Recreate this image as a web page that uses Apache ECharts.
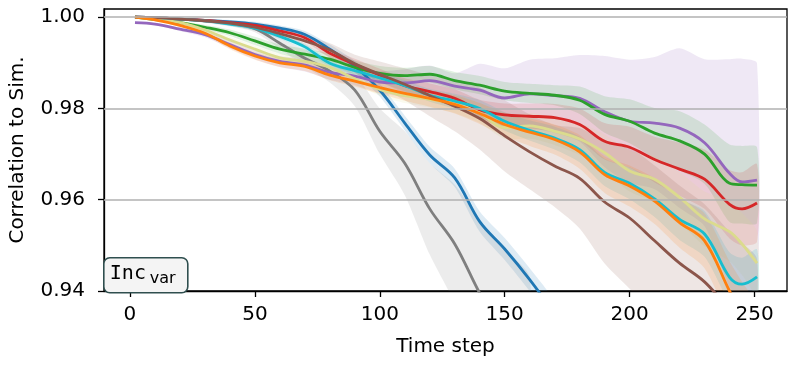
<!DOCTYPE html>
<html><head><meta charset="utf-8">
<script src="https://cdn.jsdelivr.net/npm/echarts@6/dist/echarts.min.js"></script>
<style>html,body{margin:0;padding:0;background:#fff}#c{width:797px;height:367px}</style>
</head><body><div id="c"></div>
<script>
// ---- data ----
const steps = [2,10,20,30,40,50,60,70,80,90,100,110,120,130,140,150,160,170,180,190,200,210,220,230,240,245,251];
const xTicks = [0,50,100,150,200,250];
const yTicks = [0.94,0.96,0.98,1.00];

const blueMean   = [1.0000,0.9999,0.9996,0.9993,0.9990,0.9985,0.9976,0.9962,0.9930,0.9892,0.9840,0.9768,0.9698,0.9648,0.9552,0.9492,0.9425,0.9350,null,null,null,null,null,null,null,null,null];
const blueSpread = [0,0.0001,0.0002,0.0003,0.0004,0.0005,0.0006,0.0008,0.0010,0.0012,0.0014,0.0016,0.0018,0.0020,0.0022,0.0024,0.0025,0.0025,null,null,null,null,null,null,null,null,null];

const grayMean   = [1.0000,0.9999,0.9996,0.9992,0.9986,0.9975,0.9943,0.9910,0.9882,0.9840,0.9750,0.9680,0.9580,0.9503,0.9395,0.9300,0.9210,null,null,null,null,null,null,null,null,null,null];
const graySpread = [0,0.0001,0.0002,0.0004,0.0006,0.0008,0.0012,0.0018,0.0025,0.0035,0.0050,0.0070,0.0100,0.0130,0.0160,0.0190,0.0220,null,null,null,null,null,null,null,null,null,null];

const purpleMean   = [0.9988,0.9985,0.9974,0.9962,0.9940,0.9918,0.9903,0.9895,0.9879,0.9871,0.9858,0.9856,0.9861,0.9849,0.9840,0.9823,0.9832,0.9828,0.9822,0.9793,0.9772,0.9768,0.9757,0.9725,0.9658,0.9639,0.9643];
const purpleSpread = [0,0.0002,0.0004,0.0006,0.0008,0.0010,0.0012,0.0014,0.0016,0.0020,0.0024,0.0030,0.0033,0.0028,0.0058,0.0065,0.0075,0.0082,0.0095,0.0122,0.0135,0.0145,0.0175,0.0183,0.0250,0.0270,0.0256];

const greenMean   = [1.0000,0.9995,0.9988,0.9978,0.9966,0.9948,0.9930,0.9919,0.9908,0.9890,0.9877,0.9872,0.9875,0.9861,0.9851,0.9838,0.9833,0.9829,0.9818,0.9787,0.9772,0.9746,0.9729,0.9700,0.9636,0.9633,0.9632];
const greenSpread = [0,0.0001,0.0003,0.0005,0.0007,0.0009,0.0010,0.0012,0.0013,0.0015,0.0016,0.0017,0.0018,0.0019,0.0020,0.0020,0.0021,0.0022,0.0030,0.0040,0.0048,0.0055,0.0065,0.0065,0.0085,0.0085,0.0083];

const redMean   = [1.0000,0.9999,0.9996,0.9993,0.9988,0.9982,0.9970,0.9955,0.9921,0.9897,0.9873,0.9850,0.9837,0.9822,0.9797,0.9786,0.9783,0.9780,0.9765,0.9728,0.9715,0.9688,0.9667,0.9645,0.9590,0.9580,0.9593];
const redSpread = [0,0.0001,0.0002,0.0003,0.0004,0.0005,0.0006,0.0008,0.0010,0.0012,0.0014,0.0016,0.0018,0.0020,0.0022,0.0025,0.0028,0.0030,0.0035,0.0040,0.0045,0.0050,0.0058,0.0065,0.0075,0.0080,0.0085];

const oliveMean   = [1.0000,0.9996,0.9988,0.9972,0.9950,0.9930,0.9911,0.9903,0.9890,0.9865,0.9842,0.9828,0.9820,0.9810,0.9790,0.9758,0.9762,0.9750,0.9733,0.9703,0.9663,0.9645,0.9605,0.9558,0.9530,0.9503,0.9461];
const oliveSpread = [0,0.0001,0.0003,0.0005,0.0007,0.0008,0.0009,0.0010,0.0011,0.0012,0.0014,0.0016,0.0018,0.0020,0.0022,0.0025,0.0028,0.0030,0.0035,0.0040,0.0045,0.0050,0.0055,0.0060,0.0065,0.0068,0.0070];

const cyanMean   = [1.0000,0.9999,0.9996,0.9992,0.9985,0.9976,0.9958,0.9935,0.9899,0.9883,0.9867,0.9850,0.9829,0.9816,0.9800,0.9772,0.9752,0.9735,0.9710,0.9660,0.9636,0.9602,0.9557,0.9525,0.9430,0.9415,0.9431];
const cyanSpread = [0,0.0001,0.0002,0.0003,0.0004,0.0005,0.0006,0.0007,0.0008,0.0009,0.0010,0.0012,0.0014,0.0016,0.0018,0.0020,0.0022,0.0025,0.0028,0.0030,0.0035,0.0040,0.0045,0.0050,0.0055,0.0058,0.0060];

const brownMean   = [1.0000,0.9999,0.9996,0.9992,0.9987,0.9978,0.9964,0.9948,0.9928,0.9898,0.9875,0.9853,0.9828,0.9805,0.9778,0.9740,0.9705,0.9674,0.9647,0.9595,0.9560,0.9510,0.9461,0.9420,0.9360,0.9335,0.9300];
const brownSpread = [0,0.0001,0.0002,0.0003,0.0005,0.0007,0.0009,0.0012,0.0015,0.0020,0.0028,0.0035,0.0045,0.0055,0.0068,0.0078,0.0082,0.0090,0.0110,0.0135,0.0155,0.0165,0.0170,0.0170,0.0170,0.0170,0.0170];

const orangeMean   = [1.0000,0.9994,0.9982,0.9965,0.9937,0.9915,0.9900,0.9892,0.9873,0.9860,0.9846,0.9833,0.9822,0.9809,0.9789,0.9765,0.9748,0.9732,0.9705,0.9655,0.9630,0.9597,0.9550,0.9510,0.9400,0.9350,0.9290];
const orangeSpread = [0,0.0001,0.0003,0.0005,0.0007,0.0008,0.0009,0.0010,0.0011,0.0012,0.0014,0.0016,0.0018,0.0020,0.0023,0.0026,0.0030,0.0033,0.0037,0.0040,0.0045,0.0050,0.0055,0.0060,0.0065,0.0070,0.0075];

// drawing order (later = on top)
const curves = [
  {color:'#1f77b4', mean:blueMean,   spread:blueSpread},
  {color:'#7f7f7f', mean:grayMean,   spread:graySpread},
  {color:'#9467bd', mean:purpleMean, spread:purpleSpread},
  {color:'#2ca02c', mean:greenMean,  spread:greenSpread},
  {color:'#d62728', mean:redMean,    spread:redSpread},
  {color:'#dbdb8d', mean:oliveMean,  spread:oliveSpread},
  {color:'#17becf', mean:cyanMean,   spread:cyanSpread},
  {color:'#8c564b', mean:brownMean,  spread:brownSpread},
  {color:'#ff7f0e', mean:orangeMean, spread:orangeSpread}
];

function hexToRgba(h, a) {
  const n = parseInt(h.slice(1), 16);
  return 'rgba(' + ((n >> 16) & 255) + ',' + ((n >> 8) & 255) + ',' + (n & 255) + ',' + a + ')';
}

const SM = 0.35;
const series = [];
// shaded bands (mean ± spread), drawn through the axes' scales
curves.forEach((c) => {
  const up = [], lo = [];
  steps.forEach((x, k) => {
    if (c.mean[k] == null) return;
    up.push([x, c.mean[k] + c.spread[k]]);
    lo.push([x, c.mean[k] - c.spread[k]]);
  });
  series.push({type:'custom', z:1, silent:true, data:[[up[0][0], up[0][1]]],
    renderItem:(params, api) => {
      const pts = up.map(p => api.coord(p)).concat(lo.slice().reverse().map(p => api.coord(p)));
      const cs = params.coordSys;
      return {type:'group',
        clipPath:{type:'rect', shape:{x:cs.x, y:cs.y, width:cs.width, height:cs.height}},
        children:[{type:'polygon', shape:{points:pts, smooth:0.25},
          style:{fill:hexToRgba(c.color, 0.15), stroke:null}}]};
    }});
});
// grid lines above the bands, below the lines
series.push({type:'line', data:[], z:2, silent:true,
  markLine:{silent:true, symbol:'none', label:{show:false}, animation:false,
    lineStyle:{color:'#b0b0b0', width:1.5, type:'solid'},
    data: yTicks.slice(1).map(v => ({yAxis:v}))}});
curves.forEach((c) => {
  const d = [];
  steps.forEach((x, k) => { if (c.mean[k] != null) d.push([x, c.mean[k]]); });
  series.push({type:'line', data:d, symbol:'none', smooth:SM, z:3, silent:true,
    lineStyle:{color:c.color, width:2.8}});
});

const FONT = 'DejaVu Sans';
const chart = echarts.init(document.getElementById('c'), null, {renderer:'canvas'});
chart.setOption({
  animation:false,
  backgroundColor:'#fff',
  grid:{left:104, right:10, top:9, bottom:76, show:true, borderColor:'#000', borderWidth:1.3, backgroundColor:'transparent'},
  xAxis:{type:'value', min:-10.4, max:263,
    name:'Time step', nameLocation:'middle', nameGap:46,
    nameTextStyle:{fontFamily:FONT, fontSize:20, color:'#000'},
    axisLine:{show:true, onZero:false, lineStyle:{color:'#000', width:1.3}},
    axisTick:{show:true, length:6, inside:false, customValues:xTicks, lineStyle:{color:'#000', width:1.3}},
    axisLabel:{customValues:xTicks, fontFamily:FONT, fontSize:20, color:'#000', margin:14},
    splitLine:{show:false}},
  yAxis:{type:'value', min:0.94, max:1.0018,
    name:'Correlation to Sim.', nameLocation:'middle', nameGap:76, nameRotate:90,
    nameTextStyle:{fontFamily:FONT, fontSize:20, color:'#000'},
    axisLine:{show:true, onZero:false, lineStyle:{color:'#000', width:1.3}},
    axisTick:{show:true, length:6, inside:false, customValues:yTicks, lineStyle:{color:'#000', width:1.3}},
    axisLabel:{customValues:yTicks, fontFamily:FONT, fontSize:20, color:'#000', margin:19,
      formatter:v => v.toFixed(2)},
    splitLine:{show:false}},
  graphic:[{
    type:'group', left:103, top:257, z:100, zlevel:1,
    children:[
      {type:'rect', z:100, zlevel:1, shape:{x:0, y:0, width:84, height:35, r:6},
       style:{fill:'#f4f4f4', stroke:'#2f4f4f', lineWidth:1.6}},
      {type:'text', z:101, zlevel:1, x:6, y:16, style:{text:'Inc', font:'20px "DejaVu Sans Mono"', fill:'#000', verticalAlign:'middle'}},
      {type:'text', z:101, zlevel:1, x:46, y:21, style:{text:'var', font:'16px "DejaVu Sans"', fill:'#000', verticalAlign:'middle'}}
    ]
  }],
  series: series
});
</script>
</body></html>
